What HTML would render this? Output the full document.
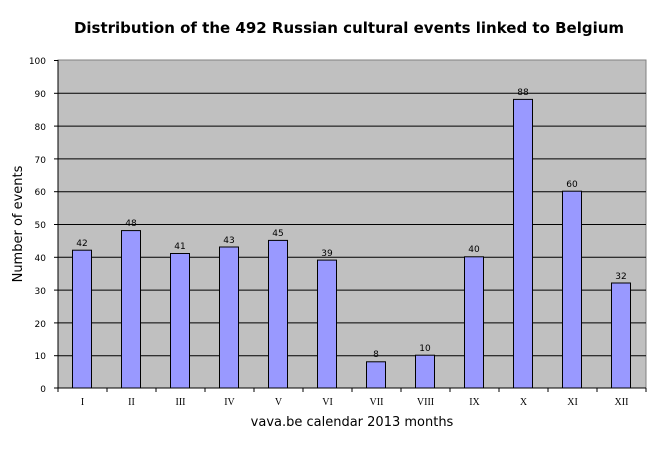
<!DOCTYPE html>
<html><head><style>body{margin:0;background:#fff}</style></head><body>
<svg width="666" height="447" xmlns="http://www.w3.org/2000/svg" font-family="Verdana, 'DejaVu Sans', sans-serif">
<text x="349" y="33" text-anchor="middle" font-size="15" font-weight="bold">Distribution of the 492 Russian cultural events linked to Belgium</text>
<rect x="58" y="60" width="588" height="328" fill="#c0c0c0" stroke="#808080"/>
<g stroke="#000" stroke-width="1">
<line x1="58" x2="646" y1="93.3" y2="93.3"/><line x1="58" x2="646" y1="126.1" y2="126.1"/>
<line x1="58" x2="646" y1="158.9" y2="158.9"/><line x1="58" x2="646" y1="191.7" y2="191.7"/>
<line x1="58" x2="646" y1="224.5" y2="224.5"/><line x1="58" x2="646" y1="257.3" y2="257.3"/>
<line x1="58" x2="646" y1="290.1" y2="290.1"/><line x1="58" x2="646" y1="322.9" y2="322.9"/>
<line x1="58" x2="646" y1="355.7" y2="355.7"/>
</g>
<g font-size="9" text-anchor="end">
<text x="46" y="64">100</text><text x="46" y="97">90</text><text x="46" y="130">80</text><text x="46" y="163">70</text><text x="46" y="195">60</text><text x="46" y="228">50</text><text x="46" y="261">40</text><text x="46" y="294">30</text><text x="46" y="327">20</text><text x="46" y="359">10</text><text x="46" y="392">0</text>
</g>
<g stroke="#000">
<line x1="58" x2="58" y1="60" y2="388"/><line x1="58" x2="646" y1="388" y2="388"/>
<line x1="54" x2="58" y1="60.5" y2="60.5"/><line x1="54" x2="58" y1="93.3" y2="93.3"/><line x1="54" x2="58" y1="126.1" y2="126.1"/><line x1="54" x2="58" y1="158.9" y2="158.9"/><line x1="54" x2="58" y1="191.7" y2="191.7"/><line x1="54" x2="58" y1="224.5" y2="224.5"/><line x1="54" x2="58" y1="257.3" y2="257.3"/><line x1="54" x2="58" y1="290.1" y2="290.1"/><line x1="54" x2="58" y1="322.9" y2="322.9"/><line x1="54" x2="58" y1="355.7" y2="355.7"/><line x1="54" x2="58" y1="388" y2="388"/>
<line x1="58" x2="58" y1="388" y2="392"/><line x1="107" x2="107" y1="388" y2="392"/><line x1="156" x2="156" y1="388" y2="392"/><line x1="205" x2="205" y1="388" y2="392"/><line x1="254" x2="254" y1="388" y2="392"/><line x1="303" x2="303" y1="388" y2="392"/><line x1="352" x2="352" y1="388" y2="392"/><line x1="401" x2="401" y1="388" y2="392"/><line x1="450" x2="450" y1="388" y2="392"/><line x1="499" x2="499" y1="388" y2="392"/><line x1="548" x2="548" y1="388" y2="392"/><line x1="597" x2="597" y1="388" y2="392"/><line x1="646" x2="646" y1="388" y2="392"/>
</g>
<g fill="#9999ff" stroke="#000">
<rect x="72.5" y="250.2" width="19" height="137.8"/>
<rect x="121.5" y="230.6" width="19" height="157.4"/>
<rect x="170.5" y="253.5" width="19" height="134.5"/>
<rect x="219.5" y="247" width="19" height="141"/>
<rect x="268.5" y="240.4" width="19" height="147.6"/>
<rect x="317.5" y="260.1" width="19" height="127.9"/>
<rect x="366.5" y="361.8" width="19" height="26.2"/>
<rect x="415.5" y="355.2" width="19" height="32.8"/>
<rect x="464.5" y="256.8" width="19" height="131.2"/>
<rect x="513.5" y="99.4" width="19" height="288.6"/>
<rect x="562.5" y="191.2" width="19" height="196.8"/>
<rect x="611.5" y="283" width="19" height="105"/>
</g>
<g font-size="9" text-anchor="middle">
<text x="82" y="246">42</text><text x="131" y="226">48</text><text x="180" y="249">41</text><text x="229" y="243">43</text><text x="278" y="236">45</text><text x="327" y="256">39</text><text x="376" y="357">8</text><text x="425" y="351">10</text><text x="474" y="252">40</text><text x="523" y="95">88</text><text x="572" y="187">60</text><text x="621" y="279">32</text>
</g>
<g font-size="10" text-anchor="middle" font-family="'Liberation Serif', serif">
<text x="82.5" y="405">I</text><text x="131.5" y="405">II</text><text x="180.5" y="405">III</text><text x="229.5" y="405">IV</text><text x="278.5" y="405">V</text><text x="327.5" y="405">VI</text><text x="376.5" y="405">VII</text><text x="425.5" y="405">VIII</text><text x="474.5" y="405">IX</text><text x="523.5" y="405">X</text><text x="572.5" y="405">XI</text><text x="621.5" y="405">XII</text>
</g>
<text x="352" y="426" text-anchor="middle" font-size="13">vava.be calendar 2013 months</text>
<text transform="translate(22,224) rotate(-90)" text-anchor="middle" font-size="13">Number of events</text>
</svg>
</body></html>
